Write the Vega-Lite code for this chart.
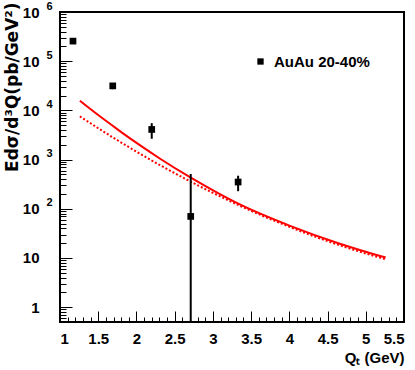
{
  "$schema": "https://vega.github.io/schema/vega-lite/v6.json",
  "width": 344,
  "height": 310,
  "autosize": {"type": "none"},
  "padding": {"left": 60, "top": 12, "right": 11, "bottom": 48},
  "background": "white",
  "config": {
    "view": {"stroke": "black", "strokeWidth": 2},
    "font": "Liberation Sans",
    "axis": {"domain": false, "grid": false, "labelFont": "Liberation Sans", "labelFontWeight": "bold", "labelFontSize": 15, "labelColor": "black", "titleFont": "Liberation Sans", "titleFontWeight": "bold", "titleFontSize": 15, "titleColor": "black", "tickColor": "black", "tickWidth": 1, "labelOverlap": false}
  },
  "datasets": {
    "pts": [
      {"qt": 1.17, "y": 256000, "lo": 236000, "hi": 276000, "series": "AuAu 20-40%"},
      {"qt": 1.69, "y": 31500, "lo": 27000, "hi": 36000, "series": "AuAu 20-40%"},
      {"qt": 2.2, "y": 4100, "lo": 2650, "hi": 5500, "series": "AuAu 20-40%"},
      {"qt": 2.71, "y": 70, "lo": 0.001, "hi": 510, "series": "AuAu 20-40%"},
      {"qt": 3.33, "y": 350, "lo": 228, "hi": 470, "series": "AuAu 20-40%"}
    ],
    "curves": [
      {"qt": 1.26, "solid": 15700, "dotted": 7550},
      {"qt": 1.5, "solid": 8040, "dotted": 4340},
      {"qt": 1.74, "solid": 4250, "dotted": 2540},
      {"qt": 1.87, "solid": 3030, "dotted": 1915},
      {"qt": 2.18, "solid": 1416, "dotted": 1000},
      {"qt": 2.31, "solid": 1042, "dotted": 769},
      {"qt": 2.7, "solid": 440, "dotted": 363},
      {"qt": 3.05, "solid": 216, "dotted": 193},
      {"qt": 3.36, "solid": 121, "dotted": 114},
      {"qt": 4.01, "solid": 45, "dotted": 42.4},
      {"qt": 4.66, "solid": 19.5, "dotted": 18.1},
      {"qt": 5.26, "solid": 10.2, "dotted": 9.4}
    ]
  },
  "encoding": {
    "x": {
      "field": "qt", "type": "quantitative",
      "scale": {"domain": [1, 5.5], "nice": false, "zero": false}
    },
    "y": {
      "type": "quantitative",
      "scale": {"type": "log", "domain": [0.5, 1000000], "nice": false}
    }
  },
  "resolve": {"axis": {"x": "independent", "y": "independent"}},
  "layer": [
    {
      "data": {"name": "curves"},
      "mark": {"type": "line", "color": "#ff0000", "strokeWidth": 2, "interpolate": "monotone"},
      "encoding": {
        "x": {
          "field": "qt", "type": "quantitative",
          "axis": {
            "orient": "bottom",
            "title": "Qₜ (GeV)",
            "titleAnchor": "end",
            "titlePadding": 4,
            "values": [1, 1.5, 2, 2.5, 3, 3.5, 4, 4.5, 5, 5.5],
            "format": "~g",
            "tickSize": -11,
            "labelPadding": 20
          }
        },
        "y": {
          "field": "solid", "type": "quantitative",
          "axis": {
            "orient": "left",
            "title": "Edσ/d³Q(pb/GeV²)",
            "titleFont": "DejaVu Sans",
            "titleFontSize": 17,
            "titleAnchor": "end",
            "titleBaseline": "alphabetic",
            "titleX": -43,
            "titleY": -10,
            "values": [1, 10, 100, 1000, 10000, 100000, 1000000],
            "labelExpr": "datum.value == 1 ? '1' : '10'",
            "tickSize": -12,
            "labelPadding": 33
          }
        }
      }
    },
    {
      "data": {"name": "curves"},
      "mark": {"type": "line", "color": "#ff0000", "strokeWidth": 2, "strokeDash": [2, 2], "interpolate": "monotone"},
      "encoding": {
        "x": {
          "field": "qt", "type": "quantitative",
          "axis": {
            "orient": "bottom",
            "title": null,
            "labels": false,
            "values": [1.1,1.2,1.3,1.4,1.6,1.7,1.8,1.9,2.1,2.2,2.3,2.4,2.6,2.7,2.8,2.9,3.1,3.2,3.3,3.4,3.6,3.7,3.8,3.9,4.1,4.2,4.3,4.4,4.6,4.7,4.8,4.9,5.1,5.2,5.3,5.4],
            "tickSize": -5
          }
        },
        "y": {
          "field": "dotted", "type": "quantitative",
          "axis": {
            "orient": "left",
            "title": null,
            "labels": false,
            "values": [0.6,0.7,0.8,0.9,2,3,4,5,6,7,8,9,20,30,40,50,60,70,80,90,200,300,400,500,600,700,800,900,2000,3000,4000,5000,6000,7000,8000,9000,20000,30000,40000,50000,60000,70000,80000,90000,200000,300000,400000,500000,600000,700000,800000,900000],
            "tickSize": -6
          }
        }
      }
    },
    {
      "data": {"name": "pts"},
      "mark": {"type": "rule", "color": "black", "strokeWidth": 2, "clip": true},
      "encoding": {
        "y": {
          "field": "lo", "type": "quantitative",
          "axis": {
            "orient": "left",
            "title": null,
            "ticks": false,
            "values": [100, 1000, 10000, 100000, 1000000],
            "labelExpr": "datum.value == 100 ? '2' : datum.value == 1000 ? '3' : datum.value == 10000 ? '4' : datum.value == 100000 ? '5' : '6'",
            "labelFontSize": 11,
            "labelPadding": 8,
            "labelOffset": -6
          }
        },
        "y2": {"field": "hi"},
        "x": {"field": "qt", "type": "quantitative", "axis": null}
      }
    },
    {
      "data": {"name": "pts"},
      "mark": {"type": "point", "filled": true, "color": "black", "opacity": 1, "size": 45},
      "encoding": {
        "x": {"field": "qt", "type": "quantitative", "axis": null},
        "y": {"field": "y", "type": "quantitative", "axis": null},
        "shape": {
          "field": "series", "type": "nominal",
          "scale": {"range": ["square"]},
          "legend": {"title": null, "orient": "none", "legendX": 193, "legendY": 42, "symbolSize": 40, "symbolFillColor": "black", "symbolStrokeColor": "black", "labelFont": "Liberation Sans", "labelFontWeight": "bold", "labelFontSize": 15, "labelColor": "black", "labelOffset": 6}
        }
      }
    }
  ]
}
